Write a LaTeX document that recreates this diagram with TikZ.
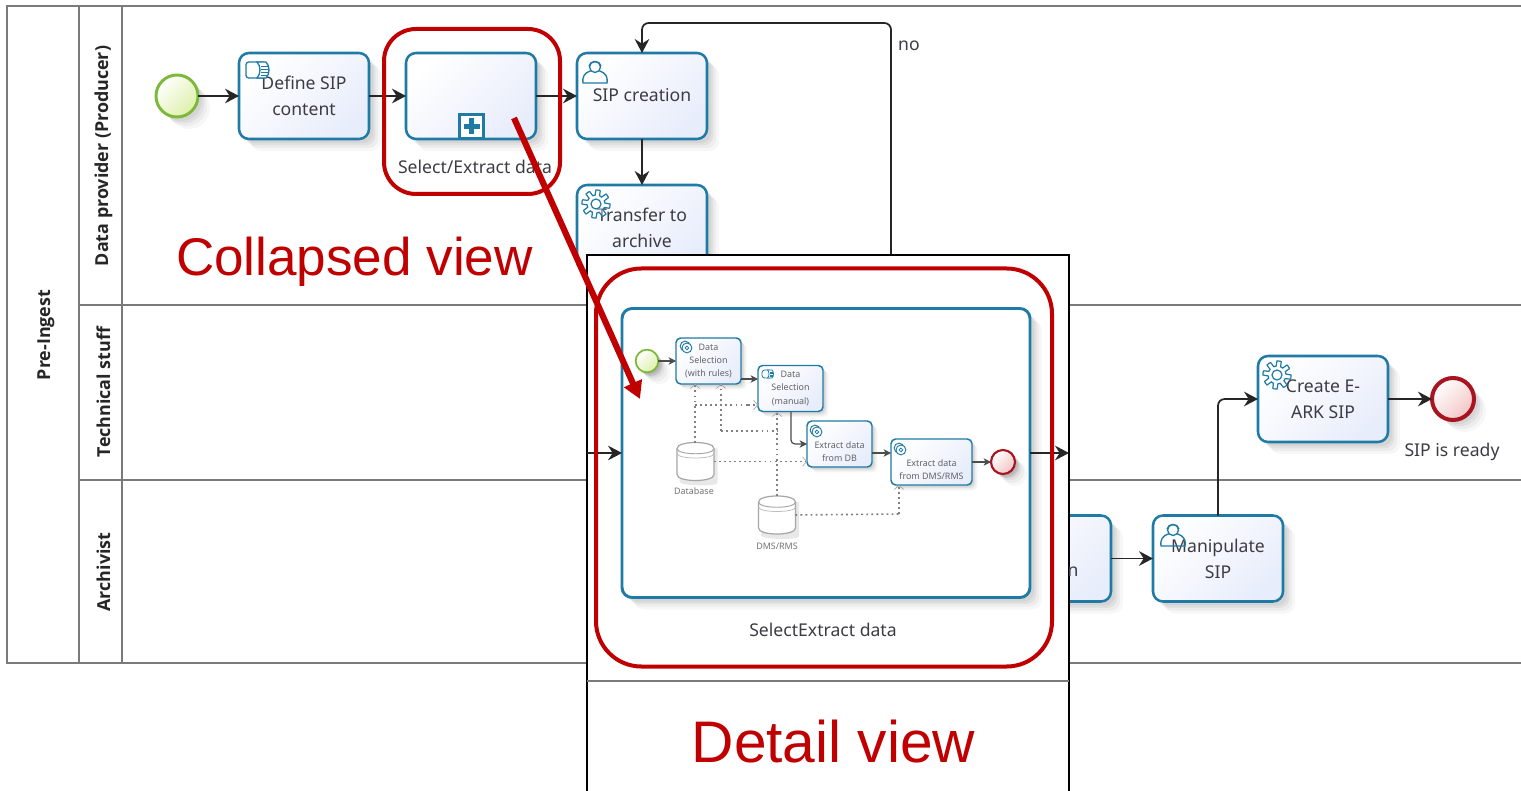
\documentclass[tikz,border=0pt]{standalone}
\usepackage{fontspec}
\setmainfont{Noto Sans}
\newfontfamily\headfont{Liberation Sans}
\newfontfamily\lanefont{Open Sans}
\usetikzlibrary{arrows.meta,shapes.geometric,calc}
\definecolor{bblue}{HTML}{1F7BA6}
\definecolor{ired}{HTML}{C00000}
\definecolor{lanegray}{HTML}{7A7A7A}
\definecolor{txt}{HTML}{3C3C44}
\definecolor{taskfill}{HTML}{E8EDFB}
\definecolor{evgreen}{HTML}{7DB83A}
\definecolor{evgreenfill}{HTML}{DDF0A8}
\definecolor{evred}{HTML}{A8141F}
\definecolor{evredfill}{HTML}{F2C4C4}
\tikzset{
  softshadow/.style={
    preaction={draw=none,fill=black,fill opacity=.05,transform canvas={xshift=#1,yshift=-#1}},
    preaction={draw=none,fill=black,fill opacity=.05,transform canvas={xshift=1.6*#1,yshift=-1.6*#1}},
    preaction={draw=none,fill=black,fill opacity=.04,transform canvas={xshift=2.3*#1,yshift=-2.3*#1}},
    preaction={draw=none,fill=black,fill opacity=.03,transform canvas={xshift=3*#1,yshift=-3*#1}}},
  gradfill/.style 2 args={fill=white,path picture={
    \shade[shading=axis,left color=#1,right color=#2,shading angle=45]
      (path picture bounding box.south west) rectangle (path picture bounding box.north east);}},
  task/.style={rectangle,rounded corners=7.5pt,draw=bblue,line width=1.9pt,gradfill={white}{taskfill},
    softshadow=3pt,minimum width=97.5pt,minimum height=64.5pt,inner sep=0pt,outer sep=0pt,
    align=center,text=txt,font=\fontsize{13.2}{19.5}\selectfont},
  mini/.style={rectangle,rounded corners=3.5pt,draw=bblue,line width=1.1pt,gradfill={white}{taskfill},
    softshadow=1.4pt,minimum height=34.5pt,inner sep=0pt,outer sep=0pt,
    align=center,text=txt!80,font=\fontsize{6.7}{9.8}\selectfont},
  flow/.style={draw=black!85,line width=1.3pt,-{Stealth[length=10.5pt,width=11pt,inset=3.5pt]}},
  miniflow/.style={draw=black!70,line width=.9pt,-{Stealth[length=5.5pt,width=5.5pt,inset=1.5pt]}},
  assoc/.style={draw=black!50,line width=1.2pt,dash pattern=on 1.4pt off 2.4pt,-{Straight Barb[length=3pt,width=7pt,black!35,line width=.5pt]}},
  assocplain/.style={draw=black!50,line width=1.2pt,dash pattern=on 1.4pt off 2.4pt},
  bigstart/.style={circle,draw=evgreen,line width=2.2pt,gradfill={white}{evgreenfill},softshadow=3pt,minimum size=31.5pt,inner sep=0pt,outer sep=0pt},
  bigend/.style={circle,draw=evred,line width=3pt,gradfill={white}{evredfill},softshadow=3pt,minimum size=31.5pt,inner sep=0pt,outer sep=0pt},
  smallstart/.style={bigstart,line width=1.3pt,softshadow=1.2pt,minimum size=17pt},
  smallend/.style={bigend,line width=1.6pt,softshadow=1.2pt,minimum size=18pt},
  lanelabel/.style={rotate=90,font=\lanefont\bfseries\fontsize{13.4}{15}\selectfont,text=black!85,inner sep=0pt},
  label/.style={text=txt,inner sep=0pt,font=\fontsize{13.2}{19.5}\selectfont},
  minilabel/.style={text=black!55,inner sep=0pt,font=\fontsize{6.7}{8}\selectfont},
  redbox/.style={rectangle,draw=ired,line width=3pt,inner sep=0pt,outer sep=0pt},
  cyl/.style={rectangle,minimum width=27.5pt,minimum height=28.5pt,inner sep=0pt,outer sep=0pt},
  cylicon/.pic={
    \path[fill=black,fill opacity=.09] (-16,-13) -- (-16,21) .. controls (-10,25) and (24,25) .. (22,21) -- (22,-13) -- cycle;
    \draw[black!35,line width=.9pt,fill=white] (-18.5,-13) .. controls (-18.5,-21) and (18.5,-21) .. (18.5,-13)
      -- (18.5,13) .. controls (18.5,21) and (-18.5,21) .. (-18.5,13) -- cycle;
    \draw[black!35,line width=.7pt] (-18.5,-13) .. controls (-18.5,-6) and (18.5,-6) .. (18.5,-13);
    \draw[black!25,line width=.6pt] (-18.5,-8) .. controls (-18.5,-2) and (18.5,-2) .. (18.5,-8);},
  gearicon/.pic={
    \draw[bblue,line width=#1,fill=white,fill opacity=.4,domain=0:360,samples=121,smooth,variable=\t]
      plot ({(11.5+2.6*max(-1,min(1,3*sin(8*\t+20))))*cos(\t)},{(11.5+2.6*max(-1,min(1,3*sin(8*\t+20))))*sin(\t)}) -- cycle;
    \draw[bblue,line width=#1] (0,0) circle[radius=5];},
  usericon/.pic={
    \draw[bblue,line width=#1] (-12,11) -- (12,11) .. controls (13,4) and (10,1) .. (5,-1)
       -- (-5,-1) .. controls (-10,1) and (-13,4) .. (-12,11) -- cycle;
    \draw[bblue,line width=#1,fill=white] (0,-5) circle[radius=5.5];
    \draw[bblue,line width=#1] (-6,-6) .. controls (-5,-12) and (5,-12) .. (6,-6);},
  scripticon/.pic={
    \draw[bblue,line width=#1,rounded corners=2pt] (-12,-8) rectangle (8,8);
    \draw[bblue,line width=#1,fill=white] (-1,-8) .. controls (3,-4) and (3,4) .. (-1,8) -- (8,8) .. controls (12,4) and (12,-4) .. (8,-8) -- cycle;
    \foreach \q in {-4,-1,2,5}{\draw[bblue,line width=.5*#1] (3,\q) -- (10,\q);}},
  gearmini/.pic={
    \draw[bblue,line width=.7pt,fill=white] (-1.5,-1.5) circle[radius=8];
    \draw[bblue,line width=.7pt,fill=white] (1.5,1.5) circle[radius=8];
    \draw[bblue,line width=.6pt] (1.5,1.5) circle[radius=3];}
}
\begin{document}
\begin{tikzpicture}[x=.75pt,y=-.75pt]
\useasboundingbox (0,0) rectangle (1521,791);
\clip (0,0) rectangle (1521,791);
\fill[white] (0,0) rectangle (1521,791);
% pool
\draw[lanegray,line width=1.5pt] (1540,6) -- (7,6) -- (7,663) -- (1540,663);
\draw[lanegray,line width=1.5pt] (79,6) -- (79,663);
\draw[lanegray,line width=1.5pt] (122,6) -- (122,663);
\draw[lanegray,line width=1.5pt] (79,305) -- (1540,305);
\draw[lanegray,line width=1.5pt] (79,480) -- (1540,480);
\node[lanelabel] (poolname) at (46,335) {Pre-Ingest};
\node[lanelabel] (lane1) at (103.5,156) {Data provider (Producer)};
\node[lanelabel] (lane2) at (103.5,392) {Technical stuff};
\node[lanelabel] (lane3) at (103.5,572) {Archivist};
% top lane
\node[bigstart] (start) at (177,96) {};
\node[task] (define) at (304,96) {\raisebox{.7pt}{Define SIP}\\\raisebox{.7pt}{content}};
\node[task] (select) at (471,96) {};
\node[task] (sip) at (642,96) {\raisebox{1.5pt}{SIP creation}};
\node[task] (transfer) at (642,228) {Transfer to\\archive};
\node[rectangle,draw=bblue,line width=1.7pt,fill=white,minimum size=18pt,inner sep=0pt] (marker) at (471.5,126.5) {};
\draw[bblue,line width=4pt] ($(marker.center)+(-8,0)$) -- ($(marker.center)+(8,0)$);
\draw[bblue,line width=4pt] ($(marker.center)+(0,-8)$) -- ($(marker.center)+(0,8)$);
\node[label] (selectlabel) at (475,167) {Select/Extract data};
\node[label] (nolabel) at (909,46) {no};
\draw[flow] (start) -- (define);
\draw[flow] (define) -- (select);
\draw[flow] (select) -- (sip);
\draw[flow] (sip) -- (transfer);
\coordinate (loopstart) at (891,270);
\coordinate (looptop) at (642,23);
\draw[flow,rounded corners=5pt] (loopstart) |- (looptop) -- (sip.north);
\pic at (258,70) {scripticon=1pt};
\pic at (595,72) {usericon=1pt};
\pic at (596,204) {gearicon=.9pt};
\node[redbox,rounded corners=24pt,minimum width=132pt,minimum height=123.75pt] (collapsedbox) at (472,111.5) {};
\node[text=ired,inner sep=0pt,font=\headfont\fontsize{39.8}{44}\selectfont] (collapsedtitle) at (354.5,262) {Collapsed view};
% right part
\node[task] (validate) at (1046,558.5) {};
\node[task] (manip) at (1218,558.5) {Manipulate\\SIP};
\node[task] (eark) at (1323,399) {Create E-\\ARK SIP};
\node[bigend] (endev) at (1453,399) {};
\node[label] (ready) at (1452,451.5) {SIP is ready};
\draw[flow] (validate) -- (manip);
\draw[flow,rounded corners=5pt] (manip.north) |- (eark.west);
\draw[flow] (eark) -- (endev);
\pic at (1173,535) {usericon=1pt};
\pic at (1277,375) {gearicon=.9pt};
% detail panel
\node[rectangle,draw=black,line width=1.5pt,fill=white,minimum width=361.5pt,minimum height=405pt,inner sep=0pt,outer sep=0pt] (detail) at (828,525) {};
\draw[lanegray,line width=1.2pt] (detail.west |- 0,681) -- (detail.east |- 0,681);
\node[text=txt,inner sep=0pt,font=\fontsize{13.2}{19.5}\selectfont] at (1073,572) {n};
\node[rectangle,rounded corners=7.5pt,draw=bblue,line width=2.2pt,fill=white,softshadow=3pt,minimum width=306pt,minimum height=216.75pt,inner sep=0pt,outer sep=0pt] (subproc) at (826,453) {};
\node[label] (subname) at (823,630) {SelectExtract data};
\coordinate (inleft) at (587,453);
\coordinate (outright) at (1069,453);
\draw[flow] (inleft) -- (subproc.west);
\draw[flow] (subproc.east) -- (outright);
% inner diagram
\node[smallstart] (istart) at (647,361) {};
\node[mini,minimum width=48.75pt] (ds1) at (708.5,361) {Data\\Selection\\(with rules)};
\node[mini,minimum width=48.75pt] (ds2) at (790.5,388.5) {Data\\Selection\\(manual)};
\node[mini,minimum width=48.75pt] (exdb) at (839.5,444) {\strut\\Extract data\\from DB};
\node[mini,minimum width=60.75pt] (exdms) at (931.5,462) {\strut\\Extract data\\from DMS/RMS};
\node[smallend] (iend) at (1003,462) {};
\node[cyl] (db) at (695.5,461.5) {};
\node[cyl] (dms) at (777,515) {};
\pic at (db.center) {cylicon};
\pic at (dms.center) {cylicon};
\node[minilabel] (dblabel) at (694,491) {Database};
\node[minilabel] (dmslabel) at (777,546) {DMS/RMS};
\draw[miniflow] (istart) -- (ds1);
\draw[miniflow] (ds1.east |- 0,379) -- (ds2.west |- 0,379);
\draw[miniflow,rounded corners=3pt] (791,412) |- (exdb.west);
\draw[miniflow] (exdb.east |- 0,453) -- (exdms.west |- 0,453);
\draw[miniflow] (exdms.east |- iend) -- (iend);
\draw[assoc] (695,443) -- (695,384);
\draw[assocplain] (695,405) -- (748,405);
\draw[assoc] (748,405) -- (758,405);
\draw[assocplain] (721,431) -- (777,431);
\draw[assoc] (721,431) -- (721,384);
\draw[assoc] (dms.north) -- (777,412);
\draw[assoc] (db.east) -- (exdb.west |- db.east);
\draw[assocplain] (dms.east) -- (899,514);
\draw[assoc] (899,514) -- (899,485);
\pic[scale=.62] at (686,347) {gearmini};
\pic[scale=.62] at (816,431) {gearmini};
\pic[scale=.62] at (900,449) {gearmini};
\pic[scale=.5] at (768,374) {scripticon=.6pt};
% red annotation
\node[redbox,rounded corners=34pt,minimum width=342pt,minimum height=298.5pt] (detailbox) at (824,467.5) {};
\node[text=ired,inner sep=0pt,font=\headfont\fontsize{44}{48}\selectfont] (detailtitle) at (833.5,742) {Detail view};
\coordinate (arrowfrom) at (514,118);
\coordinate (arrowto) at (640,399);
\draw[ired,line width=4.6pt,-{Triangle[length=13pt,width=14pt]}] (arrowfrom) -- (arrowto);
\end{tikzpicture}
\end{document}
